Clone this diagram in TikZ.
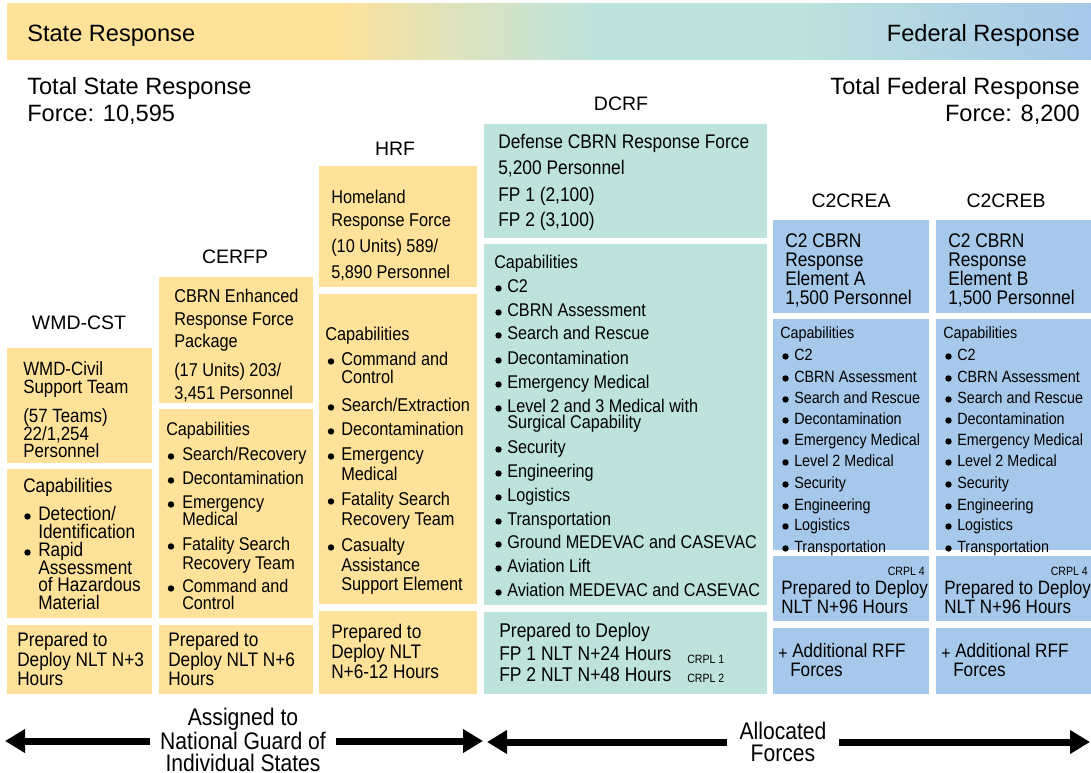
\documentclass[tikz,border=0pt]{standalone}
\usepackage{fontspec}
\setmainfont{Liberation Sans}
\newfontfamily\nar{Liberation Sans}[FakeStretch=0.88]
\usetikzlibrary{fit,arrows.meta}
\definecolor{yel}{RGB}{255,226,153}
\definecolor{tea}{RGB}{190,227,220}
\definecolor{blu}{RGB}{166,200,234}
\colorlet{mixc}{yel!45!tea}
\pgfdeclarehorizontalshading{hdrshade}{100bp}{color(0bp)=(yel); color(25bp)=(yel); color(40bp)=(yel); color(46bp)=(mixc); color(52bp)=(tea); color(61bp)=(tea); color(75bp)=(blu); color(100bp)=(blu)}
\tikzset{
  nf/.style={font=\nar\fontsize{#1}{#1}\selectfont, yshift=-3pt},
  hd/.style={font=\fontsize{17.7}{20}\selectfont, yshift=-3.75pt},
  ti/.style={font=\fontsize{14.6}{16}\selectfont, yshift=-0.75pt},
  dot/.style={circle, fill=black, minimum size=4.8pt, yshift=-2.6pt},
  ybox/.style={fill=yel},
  tbox/.style={fill=tea},
  bbox/.style={fill=blu},
  bigarr/.style={line width=5.25pt, -{Triangle[length=15pt,width=17pt]}},
}
\newcommand\Lines[4]{%
  \foreach \LYy/\LTx [count=\li] in {#4}{\node[#3, anchor=mid west] (#1-\li) at (#2,\LYy) {\LTx};}}
\newcommand\Bul[5]{%
  \foreach \BY/\BB/\BT [count=\bi] in {#5}{%
    \node[#4, anchor=mid west] (#1-\bi) at (#3,\BY) {\BT};
    \ifnum\BB=1 \node[dot] (#1-b\bi) at (#2,\BY) {};\fi}}
\begin{document}
\begin{tikzpicture}[x=0.75pt,y=-0.75pt, every node/.style={inner sep=0pt}]
\useasboundingbox (0,0) rectangle (1091,773);
% header band
\node[fit={(7,4) (1091,60)}, shade, shading=hdrshade] (band) {};
\node[hd, anchor=mid west] (state) at (27,33) {State Response};
\node[hd, anchor=mid east] (fed) at (1080,33) {Federal Response};
\node[hd, anchor=mid west] (tsr1) at (27,86) {Total State Response};
\node[hd, anchor=mid west] (tsr2) at (27,113) {Force: 10,595};
\node[hd, anchor=mid east] (tfr1) at (1080,86) {Total Federal Response};
\node[hd, anchor=mid east] (tfr2) at (1080,113) {Force: 8,200};
% titles
\node[ti] (tDCRF) at (621,103) {DCRF};
\node[ti] (tHRF) at (395,148) {HRF};
\node[ti] (tCERFP) at (235,256) {CERFP};
\node[ti] (tWMD) at (79,322) {WMD-CST};
\node[ti] (tA) at (851,200) {C2CREA};
\node[ti] (tB) at (1006,200) {C2CREB};
% WMD-CST
\node[ybox, fit={(7,348) (152,463)}] (w1) {};
\node[ybox, fit={(7,469) (152,618)}] (w2) {};
\node[ybox, fit={(7,625) (152,694)}] (w3) {};
\Lines{wt}{23}{nf=14.4}{368/WMD-Civil, 386/Support Team, 415/{(57 Teams)}, 433/{22/1,254}, 450/Personnel}
\node[nf=14.7, anchor=mid west] (wcap) at (23,485) {Capabilities};
\Bul{wb}{27.5}{38}{nf=14.7}{513/1/{Detection/}, 531/0/Identification, 549/1/Rapid, 567/0/Assessment, 584/0/of Hazardous, 602/0/Material}
\Lines{wp}{17}{nf=14.7}{639/Prepared to, 659/Deploy NLT N+3, 678/Hours}
% CERFP
\node[ybox, fit={(159,277) (313,403)}] (c1) {};
\node[ybox, fit={(159,409) (313,618)}] (c2) {};
\node[ybox, fit={(159,625) (313,694)}] (c3) {};
\Lines{ct}{174}{nf=13.9}{295/CBRN Enhanced, 318/Response Force, 340/Package, 369/{(17 Units) 203/}, 392/{3,451 Personnel}}
\node[nf=13.8, anchor=mid west] (ccap) at (166,428) {Capabilities};
\Bul{cb}{171}{182}{nf=13.8}{453/1/{Search/Recovery}, 477/1/Decontamination, 501/1/Emergency, 518/0/Medical, 543/1/Fatality Search, 562/0/Recovery Team, 585/1/Command and, 602/0/Control}
\Lines{cp}{168}{nf=14.7}{639/Prepared to, 659/Deploy NLT N+6, 678/Hours}
% HRF
\node[ybox, fit={(319,166) (477,287)}] (h1) {};
\node[ybox, fit={(319,294) (477,604)}] (h2) {};
\node[ybox, fit={(319,611) (477,694)}] (h3) {};
\Lines{ht}{331}{nf=13.9}{196/Homeland, 219/Response Force, 245/{(10 Units) 589/}, 271/{5,890 Personnel}}
\node[nf=13.9, anchor=mid west] (hcap) at (325,333) {Capabilities};
\Bul{hb}{331}{341}{nf=13.9}{358/1/Command and, 376/0/Control, 404/1/{Search/Extraction}, 428/1/Decontamination, 453/1/Emergency, 473/0/Medical, 498/1/Fatality Search, 518/0/Recovery Team, 544/1/Casualty, 564/0/Assistance, 583/0/Support Element}
\Lines{hp}{331}{nf=14.7}{631/Prepared to, 651/Deploy NLT, 671/N+6-12 Hours}
% DCRF
\node[tbox, fit={(484,124) (767,238)}] (d1) {};
\node[tbox, fit={(484,244) (767,605)}] (d2) {};
\node[tbox, fit={(484,612) (767,694)}] (d3) {};
\Lines{dt}{498}{nf=14.8}{141/Defense CBRN Response Force, 167/{5,200 Personnel}, 194/{FP 1 (2,100)}, 219/{FP 2 (3,100)}}
\node[nf=13.8, anchor=mid west] (dcap) at (494,261) {Capabilities};
\Bul{db}{498.5}{507}{nf=13.8}{285/1/C2, 309/1/CBRN Assessment, 332/1/Search and Rescue, 357/1/Decontamination, 381/1/Emergency Medical, 405/1/Level 2 and 3 Medical with, 421/0/Surgical Capability, 446/1/Security, 470/1/Engineering, 494/1/Logistics, 518/1/Transportation, 541/1/Ground MEDEVAC and CASEVAC, 565/1/Aviation Lift, 589/1/Aviation MEDEVAC and CASEVAC}
\Lines{dp}{499}{nf=14.9}{630/Prepared to Deploy, 653/FP 1 NLT N+24 Hours, 674/FP 2 NLT N+48 Hours}
\node[nf=9, anchor=mid west] (crpl1) at (687,656) {CRPL 1};
\node[nf=9, anchor=mid west] (crpl2) at (687,675) {CRPL 2};
% C2CREA / C2CREB
\foreach \o/\L in {0/A, 163/B}{
  \node[bbox, fit={(773+\o,220) (929+\o,313)}] (e\L1) {};
  \node[bbox, fit={(773+\o,319) (929+\o,550)}] (e\L2) {};
  \node[bbox, fit={(773+\o,556) (929+\o,621)}] (e\L3) {};
  \node[bbox, fit={(773+\o,628) (929+\o,694)}] (e\L4) {};
  \Lines{e\L t}{785+\o}{nf=14.8}{240/C2 CBRN, 259/Response, 278/Element \L, 297/{1,500 Personnel}}
  \node[nf=12.2, anchor=mid west] (e\L cap) at (780+\o,331) {Capabilities};
  \Bul{e\L b}{785.5+\o}{794+\o}{nf=12.2}{353/1/C2, 375/1/CBRN Assessment, 396/1/Search and Rescue, 417/1/Decontamination, 438/1/Emergency Medical, 459/1/Level 2 Medical, 481/1/Security, 503/1/Engineering, 523/1/Logistics, 545/1/Transportation}
  \node[nf=9, anchor=mid east] (e\L crpl) at (925+\o,568) {CRPL 4};
  \Lines{e\L p}{781+\o}{nf=14.5}{587/Prepared to Deploy, 606/NLT N+96 Hours}
  \node[nf=13.5, anchor=mid west] (e\L plus) at (778+\o,652) {+};
  \Lines{e\L r}{792+\o}{nf=14.6}{650/Additional RFF}
  \Lines{e\L f}{790+\o}{nf=14.6}{669/Forces}
}
% bottom arrows
\node[font=\nar\fontsize{18}{16.6}\selectfont, align=center, inner xsep=7.5pt] (assigned) at (243,740) {Assigned to\\National Guard of\\Individual States};
\node[font=\nar\fontsize{18}{16.9}\selectfont, align=center, inner xsep=9.5pt] (alloc) at (783,742) {Allocated\\Forces};
\coordinate (la) at (5,741);
\coordinate (ra) at (483,741);
\coordinate (lb) at (487,742);
\coordinate (rb) at (1090,742);
\draw[bigarr] (assigned.west |- la) -- (la);
\draw[bigarr] (assigned.east |- ra) -- (ra);
\draw[bigarr] (alloc) -- (lb);
\draw[bigarr] (alloc) -- (rb);
\end{tikzpicture}
\end{document}
